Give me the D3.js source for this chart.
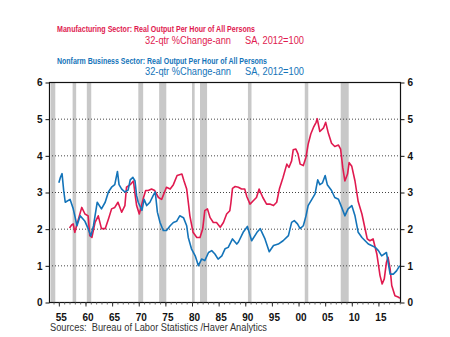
<!DOCTYPE html>
<html>
<head>
<meta charset="utf-8">
<script src="https://cdn.jsdelivr.net/npm/d3@7"></script>
<style>
	body { margin: 0; background: #fff; }
	svg { display: block; font-family: "Liberation Sans", Arial, sans-serif; }
	text { white-space: pre; }
</style>
</head>
<body>
<svg id="chart" width="450" height="337"></svg>
<script>
"use strict";

/* global d3 */

// Nonfarm business: 32-qtr % change, annualized
var nonfarmDates = [1955.0, 1955.3, 1955.6, 1955.9, 1956.2, 1957.1, 1957.7, 1958.0, 1958.4, 1959.0,
	1959.9, 1960.5, 1961.0, 1961.5, 1962.2, 1963.0, 1963.7, 1964.3, 1964.9, 1965.5,
	1966.0, 1966.3, 1966.8, 1967.4, 1968.0, 1968.4, 1968.9, 1969.3, 1969.6, 1969.9,
	1970.6, 1971.0, 1971.5, 1972.1, 1972.7, 1973.1, 1973.5, 1974.0, 1974.6, 1975.2,
	1975.9, 1976.5, 1977.1, 1977.7, 1978.4, 1979.0, 1979.3, 1979.9, 1980.6, 1981.2,
	1981.8, 1982.4, 1983.1, 1983.7, 1984.3, 1984.9, 1985.6, 1986.2, 1986.8, 1987.6,
	1988.4, 1988.7, 1989.6, 1990.4, 1991.2, 1992.2, 1992.8, 1993.7, 1994.5, 1995.3,
	1996.2, 1997.1, 1998.1, 1998.7, 1999.2, 1999.8, 2000.3, 2000.9, 2001.4, 2001.8,
	2002.5, 2003.1, 2003.6, 2004.0, 2004.5, 2005.0, 2005.4, 2006.2, 2006.8, 2007.5,
	2008.1, 2008.7, 2009.3, 2010.0, 2010.6, 2011.2, 2011.9, 2012.5, 2013.1, 2013.7,
	2014.4, 2015.0, 2015.6, 2016.5, 2017.2, 2017.8, 2018.4, 2019.0];
var nonfarmValues = [3.25, 3.4, 3.5, 3.05, 2.72, 2.8, 2.54, 2.35, 2.08, 2.35,
	2.2, 2.0, 1.8, 2.08, 2.72, 2.54, 2.72, 3.0, 3.13, 3.2,
	3.56, 3.2, 3.08, 3.0, 3.05, 3.33, 3.4, 3.3, 2.9, 2.72,
	2.5, 2.8, 2.63, 2.72, 2.9, 3.0, 2.45, 2.17, 1.95, 1.95,
	2.08, 2.17, 2.2, 2.35, 2.3, 2.08, 1.76, 1.45, 1.26, 0.99,
	1.17, 1.13, 1.35, 1.4, 1.31, 1.17, 1.26, 1.45, 1.49, 1.72,
	1.58, 1.63, 1.9, 2.06, 1.67, 1.9, 2.0, 1.72, 1.37, 1.54,
	1.58, 1.67, 1.81, 2.17, 2.22, 2.13, 2.0, 2.08, 2.35, 2.63,
	2.8, 2.95, 3.33, 3.2, 3.25, 3.45, 3.2, 3.04, 2.85, 2.8,
	2.58, 2.35, 2.54, 2.63, 2.35, 1.9, 1.76, 1.67, 1.58, 1.54,
	1.49, 1.4, 1.26, 1.35, 0.76, 0.76, 0.85, 0.99];

// Manufacturing: 32-qtr % change, annualized
var mfgDates = [1957.0, 1957.4, 1957.7, 1958.0, 1958.5, 1959.3, 1959.9, 1960.5, 1960.8, 1961.2,
	1961.8, 1962.4, 1963.0, 1963.7, 1964.3, 1964.9, 1965.5, 1966.1, 1966.8, 1967.4,
	1967.7, 1968.4, 1969.0, 1969.3, 1969.6, 1970.1, 1970.9, 1971.3, 1971.8, 1972.4,
	1973.0, 1973.7, 1974.3, 1975.2, 1975.9, 1976.5, 1977.2, 1978.1, 1978.5, 1979.0,
	1979.3, 1979.6, 1980.2, 1980.9, 1981.5, 1982.0, 1982.4, 1982.9, 1983.4, 1984.0,
	1984.6, 1985.3, 1985.9, 1986.5, 1987.1, 1987.3, 1987.6, 1988.1, 1988.7, 1989.3,
	1989.9, 1990.3, 1990.9, 1991.5, 1992.1, 1992.6, 1993.3, 1994.0, 1994.6, 1995.3,
	1995.9, 1996.4, 1997.1, 1997.8, 1998.2, 1998.7, 1999.0, 1999.5, 1999.9, 2000.3,
	2000.9, 2001.4, 2001.8, 2002.3, 2002.8, 2003.3, 2003.5, 2004.0, 2004.7, 2005.1,
	2005.6, 2006.2, 2006.8, 2007.5, 2007.9, 2008.3, 2008.7, 2009.2, 2009.5, 2010.0,
	2010.6, 2011.2, 2011.9, 2012.5, 2012.9, 2013.4, 2014.0, 2014.7, 2015.3, 2015.7,
	2016.1, 2016.5, 2016.8, 2017.2, 2017.5, 2018.1, 2018.8, 2019.0];
var mfgValues = [2.02, 2.1, 2.13, 1.9, 2.17, 2.58, 2.4, 2.35, 1.81, 1.76,
	2.17, 2.35, 2.0, 2.0, 2.26, 2.54, 2.58, 2.72, 2.45, 2.63,
	3.13, 3.2, 3.3, 2.95, 2.63, 2.4, 2.85, 3.04, 3.04, 3.08,
	3.04, 2.85, 2.8, 3.13, 3.08, 3.2, 3.45, 3.49, 3.3, 3.08,
	2.72, 2.35, 1.9, 1.76, 1.76, 1.99, 2.49, 2.54, 2.3, 2.17,
	2.17, 2.04, 2.17, 2.4, 2.49, 2.7, 3.1, 3.15, 3.13, 3.08,
	3.08, 2.87, 2.67, 2.76, 2.85, 3.08, 2.85, 2.67, 2.67, 2.63,
	2.72, 3.08, 3.4, 3.76, 3.67, 3.85, 4.15, 4.17, 4.04, 3.76,
	3.72, 3.95, 4.3, 4.58, 4.76, 4.9, 5.0, 4.65, 4.75, 4.9,
	4.6, 4.33, 4.24, 4.28, 4.17, 3.67, 3.3, 3.49, 3.8, 3.7,
	3.3, 2.74, 2.4, 1.99, 1.72, 1.67, 1.72, 1.31, 0.72, 0.49,
	0.63, 1.08, 1.22, 0.9, 0.45, 0.17, 0.13, 0.1];

// NBER recessions (start, end) in decimal years
var recessionStarts = [1953.5, 1957.58, 1960.25, 1969.92, 1973.83, 1980.0, 1981.5, 1990.5, 2001.17, 2007.92];
var recessionEnds = [1954.33, 1958.25, 1961.08, 1970.83, 1975.17, 1980.5, 1982.83, 1991.17, 2001.83, 2009.42];

var yTicks = [0, 1, 2, 3, 4, 5, 6];
var xLabelYears = [1955, 1960, 1965, 1970, 1975, 1980, 1985, 1990, 1995, 2000, 2005, 2010, 2015];

var RED = '#e01a4f';
var BLUE = '#1474b9';

// Plot geometry
var plot = {l: 49, r: 400, t: 82, b: 302};

var svg = d3.select('#chart');

var x = d3.scaleLinear().domain([1953.15, 2019.05]).range([plot.l, plot.r]);
var y = d3.scaleLinear().domain([0, 6]).range([plot.b, plot.t]);

// Titles
function addTitle(yTop, color, title) {
	svg.append('text').attr('x', 57).attr('y', yTop).attr('fill', color)
		.attr('font-size', 9).attr('font-weight', 'bold')
		.attr('textLength', title.w).attr('lengthAdjust', 'spacingAndGlyphs')
		.text(title.txt);
	svg.append('text').attr('x', 145).attr('y', yTop + 11.5).attr('fill', color)
		.attr('font-size', 10).attr('textLength', 86).attr('lengthAdjust', 'spacingAndGlyphs')
		.text('32-qtr %Change-ann');
	svg.append('text').attr('x', 245).attr('y', yTop + 11.5).attr('fill', color)
		.attr('font-size', 10).attr('textLength', 59).attr('lengthAdjust', 'spacingAndGlyphs')
		.text('SA, 2012=100');
}
addTitle(32, RED, {txt: 'Manufacturing Sector: Real Output Per Hour of All Persons', w: 198});
addTitle(63.5, BLUE, {txt: 'Nonfarm Business Sector: Real Output Per Hour of All Persons', w: 210});

// Recession shading
svg.append('g').selectAll('rect').data(recessionStarts).enter().append('rect')
	.attr('x', function(d) { return x(d); })
	.attr('width', function(d, i) { return x(recessionEnds[i]) - x(d); })
	.attr('y', plot.t).attr('height', plot.b - plot.t)
	.attr('fill', '#c8c8c8');

// Dotted grid
svg.append('g').selectAll('line').data(yTicks.filter(function(d) { return d > 0 && d < 6; })).enter()
	.append('line')
	.attr('x1', plot.l).attr('x2', plot.r)
	.attr('y1', function(d) { return y(d) + 0.5; }).attr('y2', function(d) { return y(d) + 0.5; })
	.attr('stroke', '#444').attr('stroke-width', 1).attr('stroke-dasharray', '1,2');

// Series lines
function drawSeries(dates, values, color) {
	var line = d3.line()
		.x(function(d, i) { return x(dates[i]); })
		.y(function(d) { return y(d); });
	svg.append('path').datum(values)
		.attr('d', line).attr('fill', 'none')
		.attr('stroke', color).attr('stroke-width', 1.6).attr('stroke-linejoin', 'round');
}
drawSeries(mfgDates, mfgValues, RED);
drawSeries(nonfarmDates, nonfarmValues, BLUE);

// Frame
svg.append('rect').attr('x', plot.l + 0.5).attr('y', plot.t + 0.5)
	.attr('width', plot.r - plot.l).attr('height', plot.b - plot.t)
	.attr('fill', 'none').attr('stroke', '#111').attr('stroke-width', 1.2);

// Y axes on both sides
var yLeft = d3.axisLeft(y).tickValues(yTicks).tickSize(4).tickPadding(3).tickFormat(d3.format('d'));
var yRight = d3.axisRight(y).tickValues(yTicks).tickSize(4).tickPadding(3).tickFormat(d3.format('d'));
[[yLeft, plot.l + 0.5], [yRight, plot.r + 0.5]].forEach(function(a) {
	var g = svg.append('g').attr('transform', 'translate(' + a[1] + ',0.5)').call(a[0]);
	g.select('.domain').remove();
	g.selectAll('line').attr('stroke', '#111');
	g.selectAll('text').attr('font-size', 10).attr('font-weight', 'bold').attr('fill', '#111')
		.attr('font-family', '"Liberation Sans", Arial, sans-serif');
});

// X axis: yearly minor ticks, labels every 5 years
var xMinor = d3.axisBottom(x).tickValues(d3.range(1954, 2020)).tickSize(2).tickFormat('');
var gMinor = svg.append('g').attr('transform', 'translate(0,' + (plot.b + 0.5) + ')').call(xMinor);
gMinor.select('.domain').remove();
gMinor.selectAll('line').attr('stroke', '#666');

var xMajor = d3.axisBottom(x).tickValues(xLabelYears).tickSize(4).tickPadding(7)
	.tickFormat(function(d) { return d3.format('02d')(d % 100); });
var gMajor = svg.append('g').attr('transform', 'translate(0,' + (plot.b + 0.5) + ')').call(xMajor);
gMajor.select('.domain').remove();
gMajor.selectAll('line').attr('stroke', '#333');
gMajor.selectAll('text').attr('font-size', 10).attr('font-weight', 'bold').attr('fill', '#111')
	.attr('dx', 2).attr('font-family', '"Liberation Sans", Arial, sans-serif');

// Source note
svg.append('text').attr('x', 50).attr('y', 330.5).attr('font-size', 10).attr('fill', '#333')
	.attr('textLength', 217).attr('lengthAdjust', 'spacingAndGlyphs')
	.text('Sources:  Bureau of Labor Statistics /Haver Analytics');

/* EOF */
</script>
</body>
</html>
